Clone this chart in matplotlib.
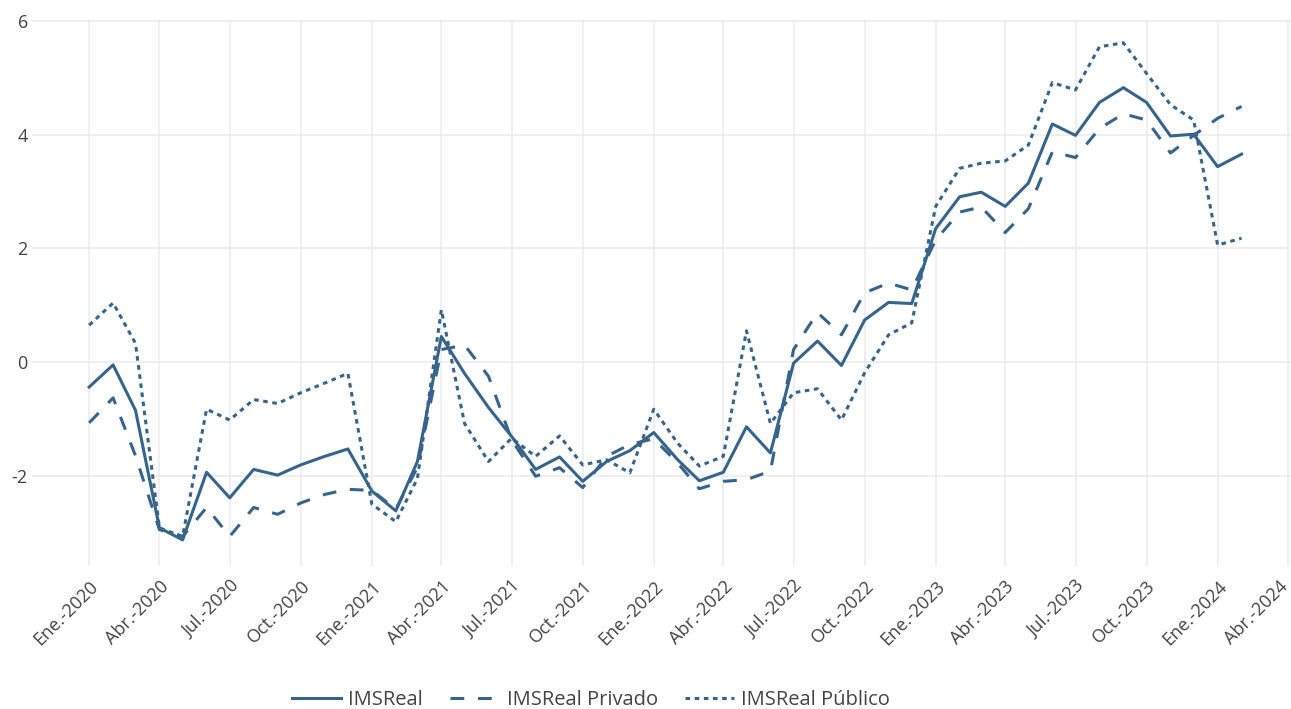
import pandas as pd
import matplotlib
matplotlib.use('Agg')
import matplotlib.pyplot as plt
from matplotlib.transforms import ScaledTranslation

# monthly series, Jan 2020 - Feb 2024
months = pd.date_range('2020-01-01', '2024-02-01', freq='MS')

ims_real = [
    -0.44, -0.05, -0.85, -2.92, -3.13, -1.94, -2.39, -1.89, -1.99, -1.81, -1.66, -1.53,
    -2.27, -2.62, -1.75, 0.45, -0.20, -0.80, -1.31, -1.89, -1.67, -2.10, -1.75, -1.56,
    -1.24, -1.72, -2.09, -1.94, -1.14, -1.60, -0.02, 0.37, -0.06, 0.74, 1.05, 1.03,
    2.35, 2.91, 2.99, 2.74, 3.15, 4.19, 3.99, 4.57, 4.83, 4.57, 3.98, 4.01,
    3.44, 3.66,
]
ims_privado = [
    -1.07, -0.63, -1.65, -2.95, -3.07, -2.56, -3.07, -2.56, -2.68, -2.48, -2.33, -2.24,
    -2.26, -2.59, -1.85, 0.22, 0.30, -0.25, -1.37, -2.01, -1.86, -2.21, -1.66, -1.45,
    -1.35, -1.78, -2.23, -2.10, -2.07, -1.92, 0.22, 0.87, 0.48, 1.22, 1.39, 1.27,
    2.15, 2.64, 2.73, 2.28, 2.70, 3.70, 3.60, 4.11, 4.37, 4.26, 3.68, 3.99,
    4.29, 4.50,
]
ims_publico = [
    0.65, 1.04, 0.33, -2.92, -3.07, -0.83, -1.02, -0.66, -0.73, -0.54, -0.37, -0.20,
    -2.50, -2.81, -2.05, 0.92, -1.08, -1.75, -1.34, -1.66, -1.30, -1.81, -1.72, -1.95,
    -0.83, -1.43, -1.83, -1.66, 0.55, -1.08, -0.54, -0.47, -1.02, -0.19, 0.48, 0.69,
    2.74, 3.41, 3.50, 3.54, 3.82, 4.92, 4.79, 5.55, 5.62, 5.08, 4.53, 4.26,
    2.06, 2.18,
]

tick_dates = pd.date_range('2020-01-01', '2024-04-01', freq='QS')
tick_labels = ['Ene.-2020', 'Abr.-2020', 'Jul.-2020', 'Oct.-2020',
               'Ene.-2021', 'Abr.-2021', 'Jul.-2021', 'Oct.-2021',
               'Ene.-2022', 'Abr.-2022', 'Jul.-2022', 'Oct.-2022',
               'Ene.-2023', 'Abr.-2023', 'Jul.-2023', 'Oct.-2023',
               'Ene.-2024', 'Abr.-2024']
y_ticks = [-2, 0, 2, 4, 6]

plt.rcParams['font.family'] = ['Open Sans', 'DejaVu Sans']
color = '#36648b'
text_color = '#444444'

fig = plt.figure(figsize=(12.91, 7.09), dpi=100)
ax = fig.add_axes([32 / 1291, 1 - 566 / 709, 1 - 32 / 1291, (566 - 19.5) / 709])

ax.plot(months, ims_real, color=color, lw=2.2, label='IMSReal')
ax.plot(months, ims_privado, color=color, lw=2.2, dashes=(4.5, 4.5), label='IMSReal Privado')
ax.plot(months, ims_publico, color=color, lw=2.2, dashes=(1.5, 1.5), label='IMSReal Público')

ax.set_xlim(pd.Timestamp('2019-10-19'), pd.Timestamp('2024-04-05'))
ax.set_ylim(-3.59, 6.03)

ax.set_xticks(tick_dates)
ax.set_xticklabels(tick_labels, rotation=45, ha='right', va='top',
                   rotation_mode='anchor', fontsize=13, color=text_color)
ax.set_yticks(y_ticks)
ax.set_yticklabels([str(v) for v in y_ticks], fontsize=13, color=text_color)
ax.tick_params(axis='both', length=0)
ax.tick_params(axis='x', pad=8)
ax.tick_params(axis='y', pad=3)

ax.grid(True, color='#ebebeb', lw=1.1)
ax.set_axisbelow(True)
for s in ax.spines.values():
    s.set_visible(False)

fig.legend(loc='center left', bbox_to_anchor=(292 / 1291, 1 - 700 / 709),
           ncol=3, frameon=False, fontsize=14.5, handlelength=2.45,
           handletextpad=0.35, columnspacing=1.35, borderpad=0, borderaxespad=0,
           labelcolor=text_color)

# the last label sits at the figure edge: pull it slightly inside
fig.canvas.draw()
last = ax.get_xticklabels()[-1]
last.set_transform(last.get_transform() + ScaledTranslation(-9 / 100, 0, fig.dpi_scale_trans))

fig.savefig('out.png', dpi=100, facecolor='white')
